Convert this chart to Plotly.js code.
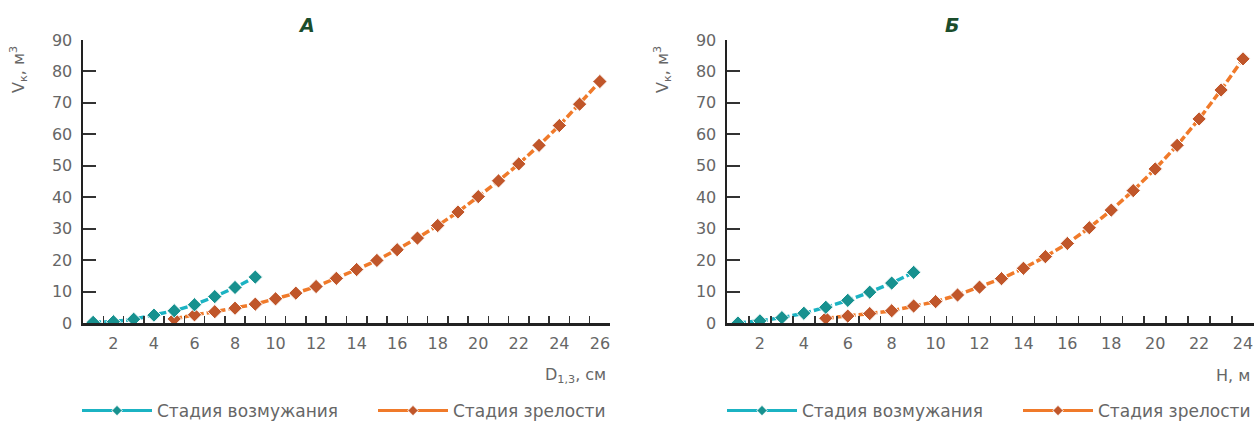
<!DOCTYPE html>
<html>
<head>
<meta charset="utf-8">
<script src="https://cdn.plot.ly/plotly-3.0.1.min.js"></script>
<style>html,body{margin:0;padding:0;background:#fff;}#chart{width:1256px;height:423px;}</style>
</head>
<body>
<div id="chart"></div>
<script>
// Chart А: volume vs diameter D1,3 (cm)
const dYoungA = [1, 2, 3, 4, 5, 6, 7, 8, 9];
const vYoungA = [0.2, 0.4, 1.2, 2.5, 3.9, 5.8, 8.4, 11.3, 14.6];
const dMatureA = [5, 6, 7, 8, 9, 10, 11, 12, 13, 14, 15, 16, 17, 18, 19, 20, 21, 22, 23, 24, 25, 26];
const vMatureA = [1.3, 2.6, 3.6, 4.7, 6.0, 7.7, 9.5, 11.6, 14.2, 17.0, 19.9, 23.3, 27.0, 31.0, 35.3, 40.2, 45.2, 50.6, 56.5, 62.8, 69.6, 76.8];

// Chart Б: volume vs height H (m)
const hYoungB = [1, 2, 3, 4, 5, 6, 7, 8, 9];
const vYoungB = [0.0, 0.7, 1.7, 3.1, 5.0, 7.2, 9.8, 12.7, 16.1];
const hMatureB = [5, 6, 7, 8, 9, 10, 11, 12, 13, 14, 15, 16, 17, 18, 19, 20, 21, 22, 23, 24];
const vMatureB = [1.5, 2.2, 3.0, 3.9, 5.4, 6.8, 8.9, 11.4, 14.1, 17.4, 21.1, 25.3, 30.3, 35.9, 42.1, 49.0, 56.5, 64.9, 74.1, 84.0];

const seriesNames = ["Стадия возмужания", "Стадия зрелости"];
const panelTitles = ["А", "Б"];
const yTitle = "V<sub>к</sub>, м<sup>3</sup>";
const xTitles = ["D<sub>1,3</sub>, см", "H, м"];

const FONT = "DejaVu Sans, sans-serif";
const GREY = "#666666";
const tealLine = "#1bb3c3", tealMark = "#17918f";
const orLine = "#f07a2a", orMark = "#c0562a";

function mk(x, y, name, lc, mc, xa, ya) {
  return {
    type: "scatter", mode: "lines+markers", x: x, y: y, name: name,
    xaxis: xa, yaxis: ya, showlegend: false,
    line: {color: lc, width: 3.5, dash: "8px,3px"},
    marker: {symbol: "diamond", size: 11, color: mc, line: {color: "#ffffff", width: 1}},
    hoverinfo: "x+y"
  };
}
// legend-only entries (solid sample line, small marker), no data points
function lg(name, lc, mc, xa, ya, leg, rank) {
  return {
    type: "scatter", mode: "lines+markers", x: [null], y: [null], name: name,
    xaxis: xa, yaxis: ya, legend: leg, legendrank: rank, showlegend: true,
    line: {color: lc, width: 3},
    marker: {symbol: "diamond", size: 8, color: mc, line: {color: "#ffffff", width: 1}}
  };
}

const data = [
  mk(dMatureA, vMatureA, seriesNames[1], orLine, orMark, "x", "y"),
  mk(dYoungA, vYoungA, seriesNames[0], tealLine, tealMark, "x", "y"),
  mk(hMatureB, vMatureB, seriesNames[1], orLine, orMark, "x2", "y2"),
  mk(hYoungB, vYoungB, seriesNames[0], tealLine, tealMark, "x2", "y2"),
  lg(seriesNames[0], tealLine, tealMark, "x", "y", "legend", 1),
  lg(seriesNames[1], orLine, orMark, "x", "y", "legend", 2),
  lg(seriesNames[0], tealLine, tealMark, "x2", "y2", "legend2", 1),
  lg(seriesNames[1], orLine, orMark, "x2", "y2", "legend2", 2)
];

function xax(domain, max, anchor) {
  return {
    domain: domain, anchor: anchor, range: [0.5, max + 0.5],
    tick0: 0, dtick: 2, ticks: "inside", ticklen: 0,
    minor: {ticks: "inside", tick0: 0.5, dtick: 1, ticklen: 7, tickwidth: 1.5, tickcolor: "#333"},
    showline: true, linecolor: "#222", linewidth: 2.5,
    showgrid: false, zeroline: false,
    tickfont: {family: FONT, size: 16, color: GREY},
    ticklabelstandoff: 4, automargin: false
  };
}
function yax(anchor) {
  return {
    domain: [0, 1], anchor: anchor, range: [0, 90], dtick: 10,
    ticks: "inside", ticklen: 13, tickwidth: 2, tickcolor: "#333",
    showline: true, linecolor: "#222", linewidth: 2.5,
    showgrid: false, zeroline: false,
    tickfont: {family: FONT, size: 16, color: GREY},
    ticklabelstandoff: 5, automargin: false
  };
}

const W = 1256, H = 423, T = 40, B = 100;
const ph = H - T - B;
const px = v => v / W;
const py = v => (H - B - v) / ph;

const legFont = {family: FONT, size: 17, color: GREY};
const layout = {
  width: W, height: H,
  margin: {l: 0, r: 0, t: T, b: B, autoexpand: false},
  paper_bgcolor: "#fff", plot_bgcolor: "#fff",
  font: {family: FONT, color: GREY},
  xaxis: xax([px(83), px(610)], 26, "y"),
  yaxis: yax("x"),
  xaxis2: xax([px(727), px(1254)], 24, "y2"),
  yaxis2: yax("x2"),
  legend: {orientation: "h", x: px(77), xanchor: "left", y: py(411), yanchor: "middle",
           itemwidth: 70, entrywidth: 211, font: legFont, bgcolor: "rgba(0,0,0,0)"},
  legend2: {orientation: "h", x: px(722), xanchor: "left", y: py(411), yanchor: "middle",
           itemwidth: 70, entrywidth: 211, font: legFont, bgcolor: "rgba(0,0,0,0)"},
  annotations: [
    {text: panelTitles[0], xref: "paper", yref: "paper", x: px(306), y: py(25), showarrow: false,
     font: {family: FONT, size: 19, color: "#1b4d2c", weight: "bold", style: "italic"}, xanchor: "center", yanchor: "middle"},
    {text: panelTitles[1], xref: "paper", yref: "paper", x: px(952), y: py(25), showarrow: false,
     font: {family: FONT, size: 19, color: "#1b4d2c", weight: "bold", style: "italic"}, xanchor: "center", yanchor: "middle"},
    {text: yTitle, xref: "paper", yref: "paper", x: px(18), y: py(70), textangle: -90, showarrow: false,
     font: {family: FONT, size: 16, color: GREY}, xanchor: "center", yanchor: "middle"},
    {text: yTitle, xref: "paper", yref: "paper", x: px(662), y: py(70), textangle: -90, showarrow: false,
     font: {family: FONT, size: 16, color: GREY}, xanchor: "center", yanchor: "middle"},
    {text: xTitles[0], xref: "paper", yref: "paper", x: px(608), y: py(375), showarrow: false,
     font: {family: FONT, size: 16, color: GREY}, xanchor: "right", yanchor: "middle"},
    {text: xTitles[1], xref: "paper", yref: "paper", x: px(1252), y: py(375), showarrow: false,
     font: {family: FONT, size: 16, color: GREY}, xanchor: "right", yanchor: "middle"}
  ]
};

Plotly.newPlot("chart", data, layout, {displayModeBar: false, staticPlot: true});
</script>
</body>
</html>
